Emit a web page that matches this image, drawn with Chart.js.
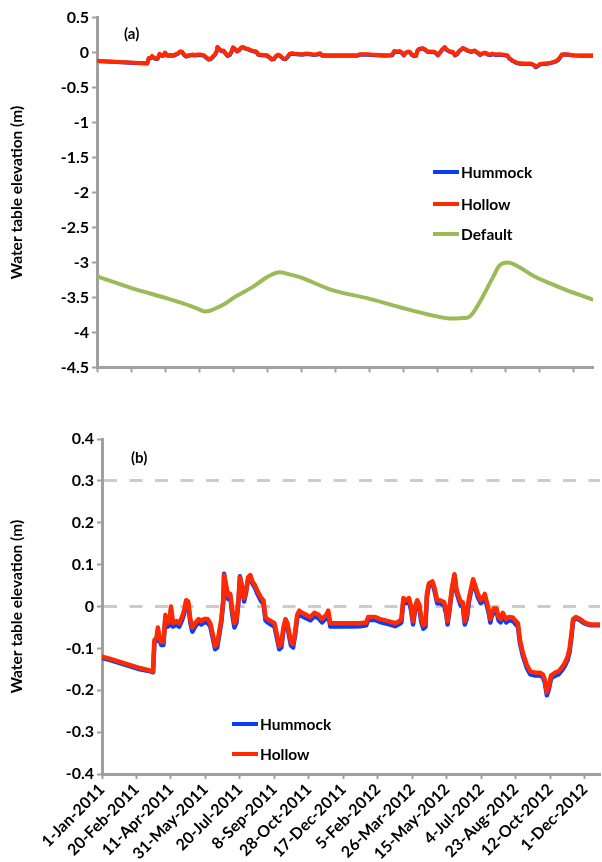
<!DOCTYPE html>
<html><head><meta charset="utf-8">
<script src="https://cdn.jsdelivr.net/npm/chart.js@4/dist/chart.umd.min.js"></script>
<style>
html,body{margin:0;padding:0;background:#fff;}
#wrap{position:relative;width:602px;height:862px;overflow:hidden;font-family:Lato,'Open Sans',sans-serif;}
canvas{position:absolute;left:0;}
.lbl{position:absolute;font-size:15px;font-weight:bold;color:#000;line-height:18px;white-space:nowrap;}
.leg{position:absolute;height:18px;display:flex;align-items:center;font-size:15.5px;font-weight:bold;color:#000;white-space:nowrap;}
.leg i{display:inline-block;width:26px;height:4px;margin-right:2px;}
</style></head><body>
<div id="wrap">
<canvas id="c1" width="602" height="380" style="top:0"></canvas>
<canvas id="c2" width="602" height="482" style="top:380px"></canvas>
</div>
<script>
// ---- data ----
const dateLabels = ['1-Jan-2011','20-Feb-2011','11-Apr-2011','31-May-2011','20-Jul-2011','8-Sep-2011','28-Oct-2011','17-Dec-2011','5-Feb-2012','26-Mar-2012','15-May-2012','4-Jul-2012','23-Aug-2012','12-Oct-2012','1-Dec-2012'];
const tickDays = [0,50,100,150,200,250,300,350,400,450,500,550,600,650,700];

const seriesDays = [
 0,12,27,41,55,70,74,76,79,81,
 83,86,89,92,95,98,100,103,108,112,
 116,119,122,125,128,131,135,140,144,148,
 153,157,161,164,167,170,173,176,177,180,
 183,186,189,192,195,198,200,203,206,209,
 212,215,218,222,226,231,234,237,240,245,
 250,254,257,260,263,266,269,271,274,277,
 280,283,286,290,296,302,308,314,319,325,
 328,331,345,360,374,383,386,396,403,415,
 425,431,434,437,441,445,448,451,454,457,
 460,463,466,469,471,474,479,482,486,490,
 496,499,501,504,507,511,514,517,520,523,
 526,529,532,538,541,545,549,552,555,558,
 561,563,565,568,572,575,578,581,586,590,
 596,600,603,606,610,616,621,628,635,639,
 642,645,648,651,657,662,667,671,675,678,
 681,683,687,693,697,702,709,721,730];

const hollowValues = [
 -0.120,-0.125,-0.133,-0.140,-0.147,-0.153,-0.155,-0.080,-0.075,-0.050,
 -0.070,-0.085,-0.085,-0.020,-0.040,-0.035,0.000,-0.040,-0.035,-0.040,
 -0.025,-0.010,0.015,0.012,-0.030,-0.050,-0.040,-0.030,-0.035,-0.030,
 -0.030,-0.040,-0.070,-0.095,-0.090,-0.060,-0.030,0.020,0.075,0.050,
 0.025,0.030,-0.010,-0.040,-0.030,0.020,0.070,0.050,0.020,0.040,
 0.070,0.075,0.060,0.050,0.035,0.020,0.015,-0.025,-0.030,-0.035,
 -0.040,-0.070,-0.095,-0.090,-0.050,-0.030,-0.040,-0.060,-0.085,-0.090,
 -0.060,-0.020,-0.010,-0.015,-0.020,-0.025,-0.015,-0.020,-0.030,-0.020,
 -0.010,-0.040,-0.040,-0.040,-0.040,-0.038,-0.025,-0.025,-0.030,-0.035,
 -0.040,-0.035,-0.030,0.020,0.015,0.020,0.000,-0.035,0.000,0.015,
 0.005,-0.030,-0.045,-0.040,0.030,0.055,0.060,0.045,0.015,0.015,
 0.010,-0.010,-0.035,0.000,0.040,0.077,0.040,0.025,0.010,0.010,
 -0.035,-0.020,0.020,0.065,0.050,0.030,0.015,0.020,0.030,0.010,
 -0.010,-0.030,-0.015,-0.005,-0.005,-0.025,-0.030,-0.015,-0.030,-0.025,
 -0.027,-0.035,-0.040,-0.080,-0.110,-0.140,-0.155,-0.158,-0.158,-0.162,
 -0.175,-0.205,-0.190,-0.165,-0.158,-0.155,-0.145,-0.135,-0.120,-0.100,
 -0.060,-0.030,-0.025,-0.030,-0.035,-0.040,-0.043,-0.043,-0.043];

const hummockValues = [
 -0.123,-0.128,-0.136,-0.143,-0.150,-0.155,-0.157,-0.085,-0.082,-0.058,
 -0.078,-0.092,-0.092,-0.028,-0.048,-0.045,-0.008,-0.048,-0.043,-0.048,
 -0.033,-0.018,0.010,0.006,-0.038,-0.060,-0.048,-0.038,-0.043,-0.038,
 -0.038,-0.048,-0.078,-0.102,-0.098,-0.068,-0.038,0.014,0.078,0.044,
 0.018,0.022,-0.020,-0.050,-0.038,0.014,0.072,0.044,0.012,0.034,
 0.068,0.074,0.055,0.044,0.028,0.012,0.008,-0.033,-0.038,-0.043,
 -0.048,-0.078,-0.102,-0.098,-0.058,-0.038,-0.048,-0.068,-0.093,-0.098,
 -0.068,-0.028,-0.018,-0.023,-0.028,-0.033,-0.023,-0.028,-0.038,-0.028,
 -0.018,-0.048,-0.048,-0.048,-0.047,-0.045,-0.032,-0.032,-0.037,-0.042,
 -0.047,-0.042,-0.038,0.014,0.008,0.012,-0.008,-0.043,-0.008,0.008,
 -0.003,-0.038,-0.053,-0.048,0.022,0.050,0.056,0.038,0.008,0.008,
 0.002,-0.018,-0.043,-0.008,0.034,0.074,0.034,0.018,0.002,0.002,
 -0.043,-0.028,0.012,0.060,0.044,0.022,0.008,0.012,0.022,0.002,
 -0.018,-0.038,-0.023,-0.013,-0.013,-0.033,-0.038,-0.023,-0.038,-0.033,
 -0.035,-0.043,-0.048,-0.088,-0.117,-0.147,-0.162,-0.165,-0.165,-0.168,
 -0.182,-0.212,-0.197,-0.172,-0.165,-0.162,-0.152,-0.142,-0.128,-0.108,
 -0.068,-0.034,-0.028,-0.033,-0.038,-0.042,-0.045,-0.045,-0.045];

const defaultDays = [0,52,102,140,150,158,166,178,190,200,229,250,268,283,298,347,397,445,494,519,544,552,567,582,592,604,621,641,666,691,729];
const defaultValues = [-3.20,-3.37,-3.51,-3.63,-3.67,-3.70,-3.69,-3.64,-3.58,-3.51,-3.35,-3.21,-3.14,-3.17,-3.21,-3.40,-3.51,-3.64,-3.76,-3.80,-3.79,-3.73,-3.49,-3.21,-3.04,-3.00,-3.07,-3.19,-3.30,-3.40,-3.53];

const seriesNames = ['Hummock','Hollow','Default'];
const seriesColors = ['#0a3cff','#ff2a00','#9bbb59'];

// ---- helpers ----
const pts = (xs, ys) => xs.map((d,i)=>({x:d,y:ys[i]}));
const axisColor = '#a0a0a0';
const tickFont = {family:'Lato', size:16, weight:'bold'};
const near = (a,b) => Math.abs(a-b) < 1e-6;
const fmt = v => String(+Number(v).toFixed(3));

function lineDs(name, xs, ys, order, extra) {
  const c = seriesColors[seriesNames.indexOf(name)];
  return Object.assign({label:name, data:pts(xs,ys), borderColor:c, backgroundColor:c,
    borderWidth:4, pointRadius:0, fill:false, order:order, tension:0, borderJoinStyle:'round', borderCapStyle:'round'}, extra||{});
}

function xScale(max, showLabels, height) {
  return {
    type:'linear', min:0, max:max,
    afterBuildTicks: s => { s.ticks = tickDays.map(v=>({value:v})); },
    afterFit: s => { s.height = height; },
    ticks:{display:showLabels, autoSkip:false, maxRotation:45, minRotation:45, padding:1,
      font:tickFont, color:'#000',
      callback: v => dateLabels[tickDays.indexOf(v)]},
    grid:{drawOnChartArea:false, tickLength:5, tickColor:axisColor, tickWidth:2},
    border:{color:axisColor, width:3}
  };
}
function yScale(min, max, step, width, gridFn) {
  return {
    min:min, max:max,
    afterFit: s => { s.width = width; },
    ticks:{stepSize:step, font:tickFont, color:'#000', padding:3, callback: v => fmt(v)},
    grid: gridFn ? {drawOnChartArea:true, color:gridFn, lineWidth:3, tickLength:5, tickColor:axisColor, tickWidth:2, tickBorderDash:[]}
                 : {drawOnChartArea:false, tickLength:5, tickColor:axisColor, tickWidth:2},
    border: gridFn ? {color:axisColor, width:3, dash:[13,12.5]} : {color:axisColor, width:3},
    title:{display:true, text:'Water table elevation (m)', color:'#000', font:{family:'Lato', size:15.5, weight:'bold'}, padding:{top:8,bottom:0}}
  };
}

// ---- panel (a) ----
new Chart(document.getElementById('c1'), {
  type:'line',
  data:{datasets:[
    lineDs('Hummock', seriesDays, hummockValues, 2),
    lineDs('Hollow', seriesDays, hollowValues, 1),
    lineDs('Default', defaultDays, defaultValues, 3, {cubicInterpolationMode:'monotone'})
  ]},
  options:{
    responsive:false, animation:false, devicePixelRatio:1,
    layout:{padding:{left:0, top:17.5, right:9, bottom:0}},
    plugins:{legend:{display:false}, tooltip:{enabled:false}},
    scales:{ x:xScale(729, false, 12), y:yScale(-4.5, 0.5, 0.5, 97, null) }
  }
});

// ---- panel (b) ----
new Chart(document.getElementById('c2'), {
  type:'line',
  data:{datasets:[
    lineDs('Hummock', seriesDays, hummockValues, 2, {borderWidth:4.5}),
    lineDs('Hollow', seriesDays, hollowValues, 1, {borderWidth:4.5})
  ]},
  options:{
    responsive:false, animation:false, devicePixelRatio:1,
    layout:{padding:{left:0, top:59, right:2, bottom:0}},
    plugins:{legend:{display:false}, tooltip:{enabled:false}},
    scales:{
      x:xScale(722, true, 88),
      y:yScale(-0.4, 0.4, 0.1, 102, ctx => (ctx.tick && (near(ctx.tick.value,0.3) || near(ctx.tick.value,0))) ? '#cccccc' : 'rgba(0,0,0,0)')
    }
  }
});

// ---- labels & legends (HTML text) ----
const wrap = document.getElementById('wrap');
function addLabel(text, left, cy) {
  const d = document.createElement('div'); d.className='lbl'; d.textContent=text;
  d.style.left = left+'px'; d.style.top = (cy-9)+'px'; wrap.appendChild(d);
}
function addLegend(names, left, ys) {
  names.forEach((n,i)=>{
    const d = document.createElement('div'); d.className='leg';
    d.style.left = left+'px'; d.style.top = (ys[i]-9)+'px';
    const sw = document.createElement('i'); sw.style.background = seriesColors[seriesNames.indexOf(n)];
    d.appendChild(sw); d.appendChild(document.createTextNode(n)); wrap.appendChild(d);
  });
}
addLabel('(a)', 124, 33);
addLabel('(b)', 131, 457);
addLegend(['Hummock','Hollow','Default'], 433, [172,204,234]);
addLegend(['Hummock','Hollow'], 232, [724,754]);
</script>
</body></html>
